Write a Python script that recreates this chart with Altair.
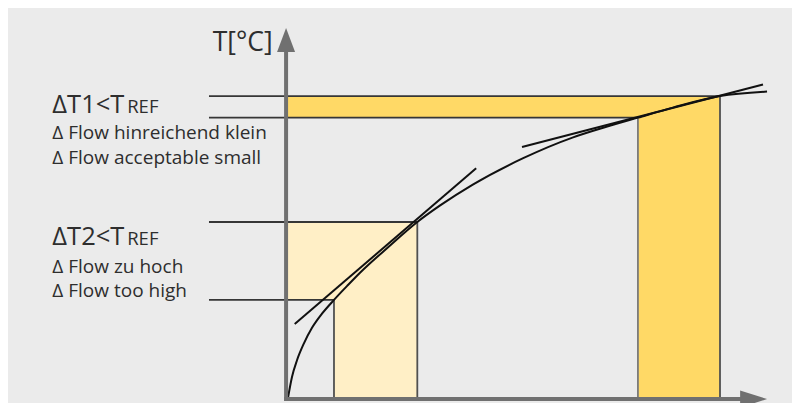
import altair as alt
import pandas as pd

# ---- data (flow units on x, temperature units on y) ----
curve_flow = [0, 0.83, 1.875, 3.27, 5.0, 7.08, 9.58, 12.5, 15.0, 20.8, 26.94, 31.7, 38.5, 49.0, 59.4, 66.5, 72.9, 80.2, 90.0, 99.8]
curve_temp = [0.6, 6.2, 10.7, 15.1, 19.4, 23.2, 26.9, 30.9, 34.2, 41.0, 47.85, 52.3, 57.9, 65.0, 70.6, 73.5, 75.9, 78.6, 81.7, 82.9]

# tangent lines (start / end)
tan_x = [48.75, 1.4]
tan_x2 = [98.96, 39.2]
tan_y = [68.0, 20.4]
tan_y2 = [84.8, 62.3]

# shaded regions: group, x, x2, y, y2
rect_group = ["T1", "T1", "T2", "T2"]
rect_x = [0, 72.9, 0, 9.58]
rect_x2 = [90.0, 90.0, 26.94, 26.94]
rect_y = [75.9, 0, 26.9, 0]
rect_y2 = [81.7, 81.7, 47.85, 47.85]

# guide / outline segments
guide_kind = ["h", "h", "v", "e", "h", "h", "e", "e"]
guide_x = [-16.46, -16.46, 72.9, 90.0, -16.46, -16.46, 9.58, 26.94]
guide_x2 = [90.0, 72.9, 72.9, 90.0, 26.94, 9.58, 9.58, 26.94]
guide_y = [81.7, 75.9, 0, 0, 47.85, 26.9, 0, 0]
guide_y2 = [81.7, 75.9, 75.9, 81.7, 47.85, 26.9, 26.9, 47.85]

# axes
axis_x = [-0.4, -0.4]
axis_x2 = [-0.4, 94.3]
axis_y = [0.25, 0.25]
axis_y2 = [93.6, 0.25]

# labels
big_text = ["ΔT1<T", "ΔT2<T"]
big_x = [-49.1, -49.1]
big_y = [77.07, 41.67]
sub_text = ["REF", "REF"]
sub_x = [-33.5, -33.5]
sub_y = [77.07, 41.67]
small_text = ["Δ Flow hinreichend klein", "Δ Flow acceptable small", "Δ Flow zu hoch", "Δ Flow too high"]
small_x = [-49.1, -49.1, -49.1, -49.1]
small_y = [70.08, 63.44, 34.06, 27.6]
title_text = ["T[°C]"]
title_x = [-15.7]
title_y = [93.8]

# ---- scales ----
X_DOMAIN = [-58.333, 105.0]
Y_DOMAIN = [-0.806, 105.376]
xs = alt.Scale(domain=X_DOMAIN, nice=False, zero=False)
ys = alt.Scale(domain=Y_DOMAIN, nice=False, zero=False)

FONT = "Open Sans"
TXT = "#2e2e2e"


def X(f="x"):
    return alt.X(f"{f}:Q", scale=xs, axis=None)


def Y(f="y"):
    return alt.Y(f"{f}:Q", scale=ys, axis=None)


rects = alt.Chart(pd.DataFrame({"g": rect_group, "x": rect_x, "x2": rect_x2, "y": rect_y, "y2": rect_y2})).mark_rect(
    strokeWidth=0
).encode(
    x=X(), x2="x2:Q", y=Y(), y2="y2:Q",
    fill=alt.Fill("g:N", scale=alt.Scale(domain=["T1", "T2"], range=["#ffd966", "#ffefc6"]), legend=None),
)

guides = alt.Chart(pd.DataFrame({"k": guide_kind, "x": guide_x, "x2": guide_x2, "y": guide_y, "y2": guide_y2})).mark_rule(
    strokeWidth=1.8
).encode(
    x=X(), x2="x2:Q", y=Y(), y2="y2:Q",
    stroke=alt.Stroke("k:N", scale=alt.Scale(domain=["h", "v", "e"], range=["#363636", "#7a7a7a", "#505050"]), legend=None),
)

curve = alt.Chart(pd.DataFrame({"x": curve_flow, "y": curve_temp})).mark_line(
    color="#111111", strokeWidth=2, interpolate="monotone"
).encode(x=X(), y=Y())

tangents = alt.Chart(pd.DataFrame({"x": tan_x, "x2": tan_x2, "y": tan_y, "y2": tan_y2})).mark_rule(
    color="#111111", strokeWidth=2
).encode(x=X(), x2="x2:Q", y=Y(), y2="y2:Q")

axes = alt.Chart(pd.DataFrame({"x": axis_x, "x2": axis_x2, "y": axis_y, "y2": axis_y2})).mark_rule(
    color="#707070", strokeWidth=4, strokeCap="square"
).encode(x=X(), x2="x2:Q", y=Y(), y2="y2:Q")

arrow_up = alt.Chart(pd.DataFrame({"x": [-0.4], "y": [96.8]})).mark_point(
    shape="M-0.75,1L0,-1L0.75,1Z", size=576, filled=True, color="#707070", opacity=1
).encode(x=X(), y=Y())

arrow_right = alt.Chart(pd.DataFrame({"x": [97.0], "y": [0.25]})).mark_point(
    shape="M-1,-0.63L1,0L-1,0.63Z", size=729, filled=True, color="#707070", opacity=1
).encode(x=X(), y=Y())

big = alt.Chart(pd.DataFrame({"x": big_x, "y": big_y, "t": big_text})).mark_text(
    align="left", baseline="alphabetic", font=FONT, fontSize=25.5, color=TXT
).encode(x=X(), y=Y(), text="t:N")

sub = alt.Chart(pd.DataFrame({"x": sub_x, "y": sub_y, "t": sub_text})).mark_text(
    align="left", baseline="alphabetic", font=FONT, fontSize=18.5, color=TXT
).encode(x=X(), y=Y(), text="t:N")

small = alt.Chart(pd.DataFrame({"x": small_x, "y": small_y, "t": small_text})).mark_text(
    align="left", baseline="alphabetic", font=FONT, fontSize=19, color=TXT
).encode(x=X(), y=Y(), text="t:N")

title = alt.Chart(pd.DataFrame({"x": title_x, "y": title_y, "t": title_text})).mark_text(
    align="left", baseline="alphabetic", font=FONT, fontSize=26.5, color=TXT
).encode(x=X(), y=Y(), text="t:N")

chart = alt.layer(
    rects, guides, curve, tangents, axes, arrow_up, arrow_right, big, sub, small, title
).resolve_scale(
    fill="independent", stroke="independent"
).properties(
    width=784, height=395, padding=0, autosize=alt.AutoSizeParams(type="none")
).configure(background="#ebebeb").configure_view(stroke=None, fill="#ebebeb")

chart.save("out.html", embed_options={"renderer": "svg", "actions": False})
